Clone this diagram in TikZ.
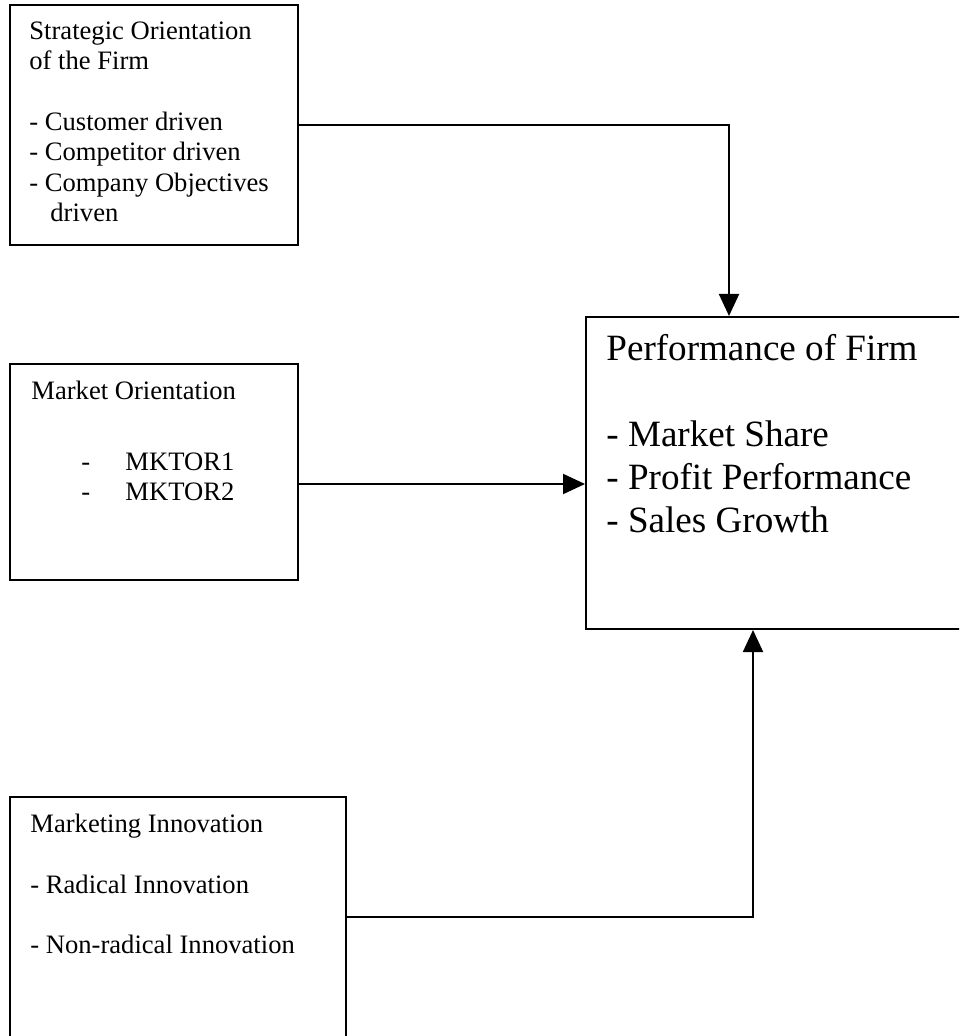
\documentclass[tikz,border=0pt]{standalone}
\usepackage{fontspec}
\setmainfont{Liberation Serif}
\usepackage{tikz}
\usetikzlibrary{arrows.meta}
\newlength\pxunit
\setlength\pxunit{0.5pt}

\begin{document}
\begin{tikzpicture}[x=1\pxunit,y=-1\pxunit,
  blk/.style 2 args={draw,rectangle,line width=1pt,minimum width=#1\pxunit,minimum height=#2\pxunit,inner sep=0pt},
  txt/.style={anchor=north west,inner sep=0pt,align=left,font=\fontsize{13.3}{15.2}\selectfont},
  bigtxt/.style={txt,font=\fontsize{18.55}{21.5}\selectfont},
  conn/.style={line width=1pt,-{Triangle[width=10pt,length=11pt]}}]
\clip (0,0) rectangle (959,1036);
% boxes
\node[blk={288}{240}] (strat) at (154,125) {};
\node[blk={288}{216}] (mktor) at (154,472) {};
\node[blk={414}{312}] (perf) at (793,473) {};
\node[blk={336}{240}] (innov) at (178,917) {};
% texts
\node[txt] (stratT) at ([xshift=10pt,yshift=-6.85pt]strat.north west)
   {\strut Strategic Orientation\\ of the Firm\\[15.2pt]
    - Customer driven\\ - Competitor driven\\ - Company Objectives\\
    \hspace*{10.5pt}driven};
\node[txt] (mktorT) at ([xshift=11pt,yshift=-7.35pt]mktor.north west)
   {\strut Market Orientation\\[20.3pt]
    \hspace*{25pt}\makebox[22pt][l]{-}MKTOR1\\
    \hspace*{25pt}\makebox[22pt][l]{-}MKTOR2};
\node[bigtxt] (perfT) at ([xshift=10.5pt,yshift=-6.95pt]perf.north west)
   {\strut Performance of Firm\\[21.5pt]
    - Market Share\\ - Profit Performance\\ - Sales Growth};
\node[txt] (innovT) at ([xshift=10.5pt,yshift=-7.35pt]innov.north west)
   {\strut Marketing Innovation\\[15.2pt]
    - Radical Innovation\\[15.2pt]
    - Non-radical Innovation};
% connectors
\draw[conn] (strat.east) -| ([xshift=72pt]perf.north west);
\draw[conn] ([yshift=-6pt]mktor.east) -- ([yshift=-6pt]mktor.east -| perf.west);
\draw[conn] (innov.east) -| ([xshift=84pt]perf.south west);
\end{tikzpicture}
\end{document}
